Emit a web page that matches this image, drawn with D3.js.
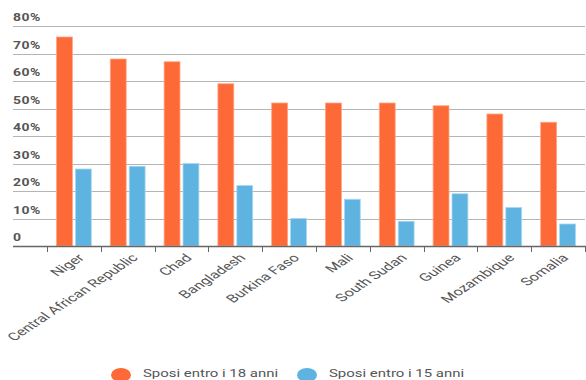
<!DOCTYPE html>
<html>
<head>
<meta charset="utf-8">
<script src="https://cdn.jsdelivr.net/npm/d3@7"></script>
<style>
  body { margin: 0; background: #fff; }
  text { font-family: Roboto, "Open Sans", sans-serif; fill: #555; }
</style>
</head>
<body>
<div id="chart"></div>
<script>
// data
const countries = ["Niger", "Central African Republic", "Chad", "Bangladesh", "Burkina Faso",
                   "Mali", "South Sudan", "Guinea", "Mozambique", "Somalia"];
const by18 = [76, 68, 67, 59, 52, 52, 52, 51, 48, 45];
const by15 = [28, 29, 30, 22, 10, 17, 9, 19, 14, 8];
const seriesNames = ["Sposi entro i 18 anni", "Sposi entro i 15 anni"];
const yTicks = [0, 10, 20, 30, 40, 50, 60, 70, 80];

const W = 586, H = 380;
const colors = ["#fd6a37", "#5fb3e1"];
const strokes = ["#ffa585", "#a9d9f2"];

const svg = d3.select("#chart").append("svg")
    .attr("width", W)
    .attr("height", H);

const x0 = d3.scaleBand()
    .domain(countries)
    .range([47, 585])
    .paddingInner(0)
    .paddingOuter(0);

const x1 = d3.scaleBand()
    .domain([0, 1])
    .range([9.5, x0.bandwidth() - 9.5])
    .paddingInner(0.16);

const y = d3.scaleLinear()
    .domain([0, 80])
    .range([246, 26]);

// gridlines + y labels
const grid = svg.append("g");
yTicks.forEach(t => {
    if (t > 0) {
        grid.append("line")
            .attr("x1", 13).attr("x2", 585)
            .attr("y1", Math.round(y(t)) + 0.5).attr("y2", Math.round(y(t)) + 0.5)
            .attr("stroke", "#b5b5b5");
    }
    grid.append("text")
        .attr("transform", `translate(13,${y(t) - 5}) scale(1.4,1)`)
        .style("font-size", "10px")
        .style("font-weight", "bold")
        .style("letter-spacing", "0.3px")
        .text(t === 0 ? "0" : t + "%");
});

// bars
const groups = svg.append("g").selectAll("g")
    .data(countries)
    .join("g")
    .attr("transform", d => `translate(${x0(d)},0)`);

groups.selectAll("rect")
    .data((d, i) => [by18[i], by15[i]])
    .join("rect")
    .attr("x", (d, j) => x1(j))
    .attr("y", d => y(d))
    .attr("width", x1.bandwidth())
    .attr("height", d => y(0) - y(d))
    .attr("fill", (d, j) => colors[j])
    .attr("stroke", (d, j) => strokes[j])
    .attr("stroke-width", 0.8);

// x axis
const xAxis = svg.append("g")
    .attr("transform", `translate(0,${y(0)})`);

xAxis.append("line")
    .attr("x1", 13).attr("x2", 586)
    .attr("y1", 0.5).attr("y2", 0.5)
    .attr("stroke", "#666")
    .attr("stroke-width", 1.5);

const bounds = countries.map(c => x0(c)).concat([x0.range()[1]]);
bounds.forEach(b => {
    xAxis.append("line")
        .attr("x1", Math.round(b) + 0.5).attr("x2", Math.round(b) + 0.5)
        .attr("y1", 0).attr("y2", 6)
        .attr("stroke", "#666");
});

// the reference is stretched sideways, so the 45° labels come out flatter
countries.forEach(c => {
    xAxis.append("text")
        .attr("transform", `translate(${x0(c) + x0.bandwidth() / 2 + 6},9) scale(1.5,1) rotate(-45)`)
        .attr("text-anchor", "end")
        .attr("dy", "0.45em")
        .style("font-size", "11px")
        .text(c);
});

// legend
const legend = svg.append("g");
const legendX = [121, 307];
seriesNames.forEach((s, i) => {
    legend.append("ellipse")
        .attr("cx", legendX[i]).attr("cy", 375)
        .attr("rx", 10).attr("ry", 7)
        .attr("fill", colors[i]);
    legend.append("text")
        .attr("transform", `translate(${legendX[i] + 22},377) scale(1.3,1)`)
        .style("font-size", "11.5px")
        .text(s);
});
</script>
</body>
</html>
